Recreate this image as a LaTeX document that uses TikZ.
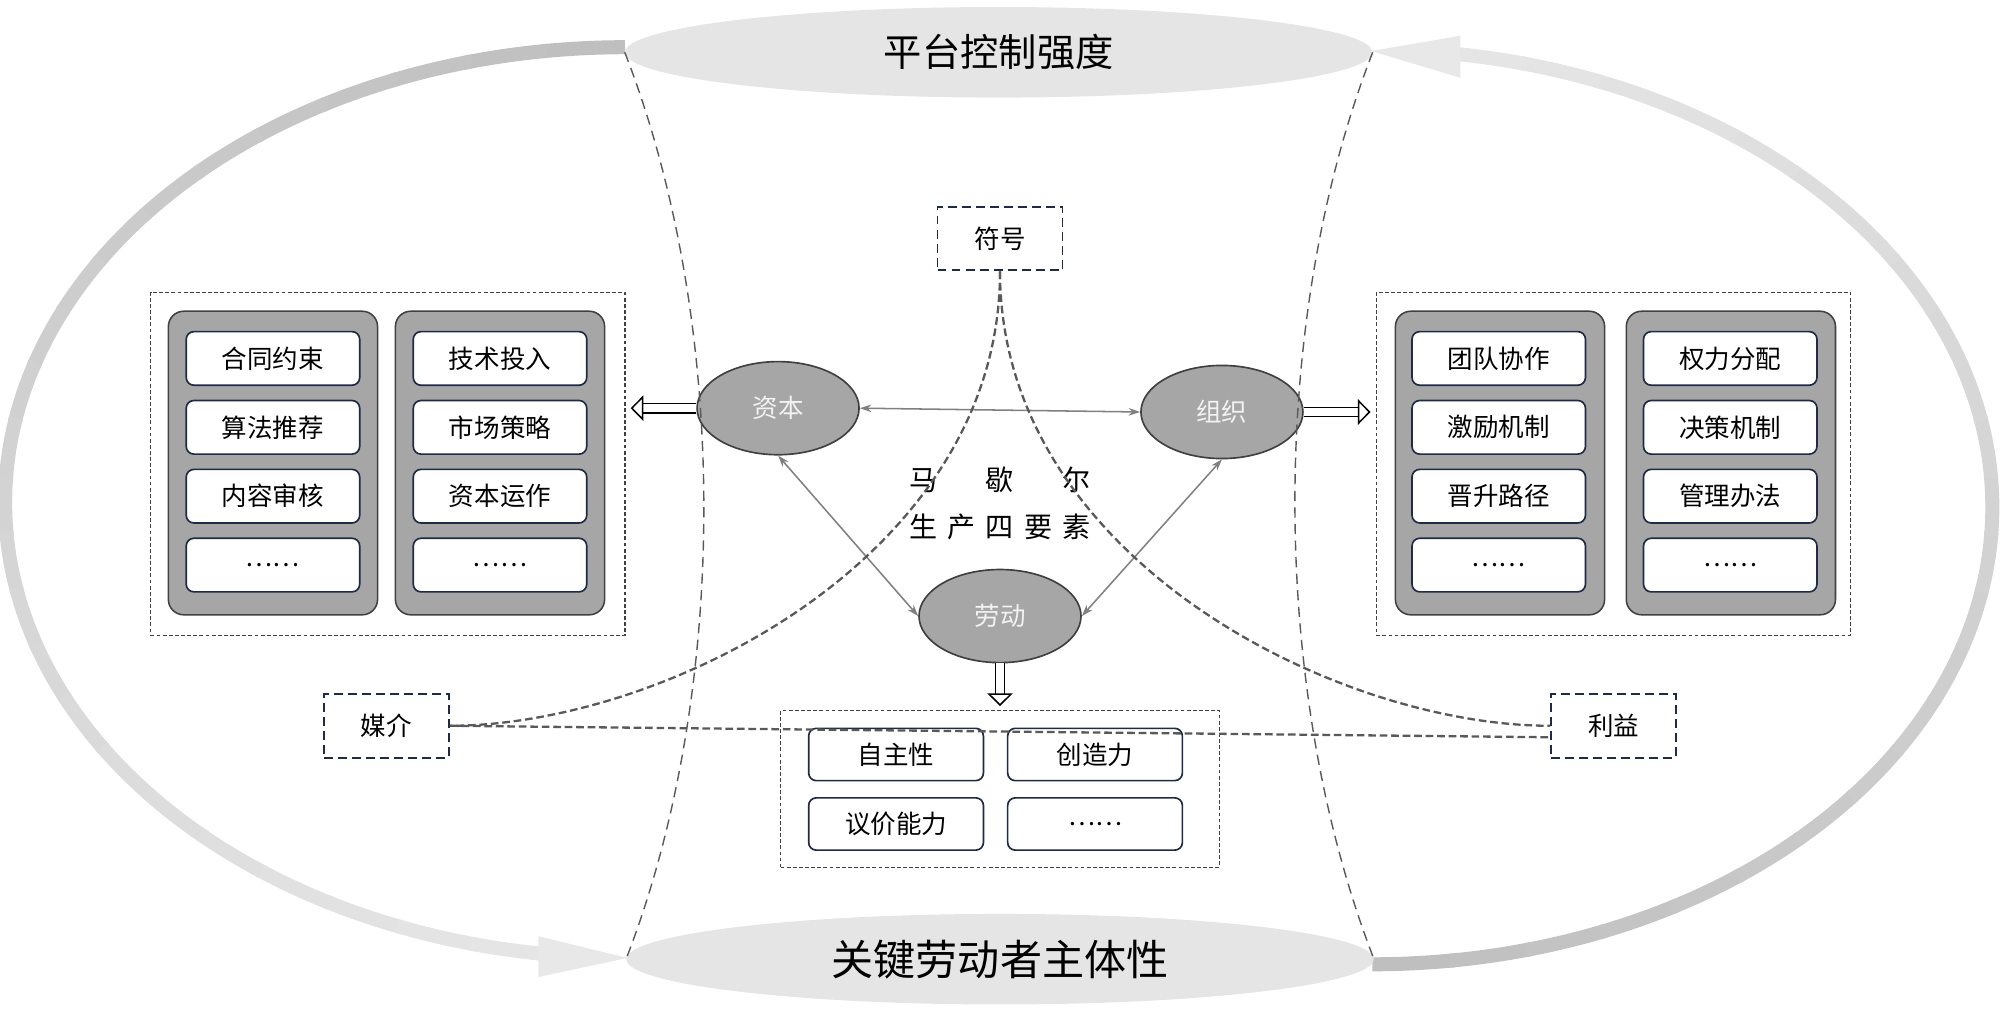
\documentclass[tikz,border=0pt]{standalone}
\usepackage{fontspec}
\setmainfont{Noto Sans CJK SC}
\usetikzlibrary{shapes.geometric,arrows.meta}
\definecolor{boxnavy}{HTML}{1F2A44}
\definecolor{linegray}{HTML}{595959}
\definecolor{edgegray}{HTML}{404040}

\begin{document}
\begin{tikzpicture}[x=1pt,y=-1pt,
		pole/.style={ellipse, fill=gray!20, inner sep=0pt, minimum width=586pt, minimum height=71pt},
		border/.style={draw=linegray, line width=1.1pt, dash pattern=on 8pt off 5pt},
		group/.style={draw=edgegray, line width=0.9pt, dash pattern=on 3pt off 1.8pt, minimum width=372pt, minimum height=269pt},
		column/.style={rounded corners=12pt, fill=gray!70, draw=edgegray, line width=1.2pt, minimum width=164pt, minimum height=238pt},
		item/.style={rounded corners=6pt, fill=white, draw=boxnavy, line width=1.3pt, minimum width=136pt, minimum height=42pt, font=\fontsize{20}{24}\selectfont},
		factor/.style={ellipse, fill=gray!70, draw=edgegray, line width=1.3pt, inner sep=0pt, minimum width=127pt, minimum height=73pt, text=white!95!black, font=\fontsize{20}{24}\selectfont},
		medium/.style={draw=boxnavy, line width=1.5pt, dash pattern=on 7pt off 4pt, minimum width=98pt, minimum height=50pt, font=\fontsize{20}{24}\selectfont},
		rel/.style={draw=gray, line width=1.2pt, {Stealth[length=9pt,width=6pt]}-{Stealth[length=9pt,width=6pt]}},
		hollow/.style={draw=black, line width=1.2pt, double=white, double distance=6pt, -{Triangle[open, fill=white, length=10pt, width=20pt, line width=1.2pt]}},
		link/.style={draw=linegray, line width=1.8pt, dash pattern=on 6pt off 3pt}]
	\useasboundingbox (0,0) rectangle (1568,792.7);
	% outer flow arcs, dark tail to light head
	\foreach \i in {0,...,23}{
		\pgfmathsetmacro{\ta}{-90-7.2*\i}
		\pgfmathsetmacro{\tb}{\ta-7.7}
		\pgfmathsetmacro{\tone}{50-30*\i/23}
		\draw[line width=11pt, draw=gray!\tone] ({490+486*cos(\ta)},{394+357*sin(\ta)}) arc[start angle=\ta, end angle=\tb, x radius=486, y radius=357];
		\pgfmathsetmacro{\ta}{90-7.2*\i}
		\pgfmathsetmacro{\tb}{\ta-7.7}
		\draw[line width=11pt, draw=gray!\tone] ({1076+486*cos(\ta)},{397.5+358.5*sin(\ta)}) arc[start angle=\ta, end angle=\tb, x radius=486, y radius=358.5];
	}
	\fill[gray!18] (492,751) -- (422,734) -- (422,766) -- cycle;
	\fill[gray!18] (1075,40) -- (1145,28) -- (1145,61) -- cycle;

	\node[pole, font=\fontsize{30}{36}\selectfont] (platform) at (783,41) {平台控制强度};
	\node[pole, font=\fontsize{33}{40}\selectfont] (worker) at (784,752) {关键劳动者主体性};

	% left group
	\node[group] (leftgroup) at (304,363.5) {};
	\node[column] (lcol1) at (214,363) {};
	\node[column] (lcol2) at (392,363) {};
	\node[item] (contract) at (214,281) {合同约束};
	\node[item] (algorithm) at (214,335) {算法推荐};
	\node[item] (review) at (214,389) {内容审核};
	\node[item] (ldots1) at (214,443) {……};
	\node[item] (tech) at (392,281) {技术投入};
	\node[item] (market) at (392,335) {市场策略};
	\node[item] (operation) at (392,389) {资本运作};
	\node[item] (ldots2) at (392,443) {……};

	% right group
	\node[group] (rightgroup) at (1265,363.5) {};
	\node[column] (rcol1) at (1176,363) {};
	\node[column] (rcol2) at (1357,363) {};
	\node[item] (team) at (1175,281) {团队协作};
	\node[item] (incentive) at (1175,335) {激励机制};
	\node[item] (promotion) at (1175,389) {晋升路径};
	\node[item] (rdots1) at (1175,443) {……};
	\node[item] (power) at (1356.5,281) {权力分配};
	\node[item] (decision) at (1356.5,335) {决策机制};
	\node[item] (manage) at (1356.5,389) {管理办法};
	\node[item] (rdots2) at (1356.5,443) {……};

	% bottom group
	\node[group, minimum width=344pt, minimum height=123pt] (traits) at (784,618.5) {};
	\node[item, minimum width=137pt, minimum height=41pt] (autonomy) at (702.5,591.5) {自主性};
	\node[item, minimum width=137pt, minimum height=41pt] (creativity) at (858.5,591.5) {创造力};
	\node[item, minimum width=137pt, minimum height=41pt] (bargain) at (702.5,646) {议价能力};
	\node[item, minimum width=137pt, minimum height=41pt] (bdots) at (858.5,646) {……};

	% four factors
	\node[factor] (capital) at (610,320) {资本};
	\node[factor] (organize) at (958,323) {组织};
	\node[factor] (labour) at (784,483) {劳动};
	\node[align=center, font=\fontsize{22}{37}\selectfont] (marx) at (784,394.5) {马\hspace{38pt}歇\hspace{38pt}尔\\生\hspace{8pt}产\hspace{8pt}四\hspace{8pt}要\hspace{8pt}素};

	\node[medium] (symbol) at (784,187) {符号};
	\node[medium] (media) at (303,569) {媒介};
	\node[medium] (interest) at (1265,569) {利益};

	\draw[border] (platform.west) .. controls +(82,210) and +(82,-211) .. (worker.west);
	\draw[border] (platform.east) .. controls +(-82,210) and +(-82,-211) .. (worker.east);

	\draw[rel] (capital.east) -- (organize.west);
	\draw[rel] (capital.south) -- (labour.west);
	\draw[rel] (organize.south) -- (labour.east);
	\draw[hollow, shorten >=4pt] (capital.west) -- (capital.west -| leftgroup.east);
	\draw[hollow, shorten >=4pt] (organize.east) -- (organize.east -| rightgroup.west);
	\draw[hollow, shorten >=3pt] (labour.south) -- (traits.north);

	\draw[link] (symbol.south) .. controls +(0,225) and +(167,0) .. (media.east);
	\draw[link] (symbol.south) .. controls +(0,225) and +(-167,0) .. (interest.west);
	\draw[link] (media.east) -- ([yshift=-9pt]interest.west);
\end{tikzpicture}
\end{document}
